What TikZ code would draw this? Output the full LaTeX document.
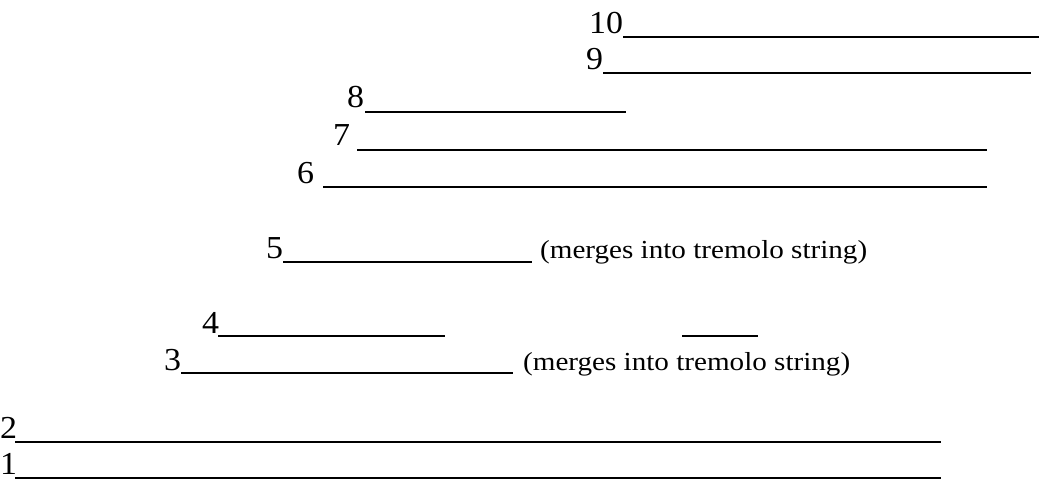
\documentclass[tikz,border=0pt]{standalone}
\usepackage{fontspec}
\setmainfont{Liberation Serif}
\newfontfamily\notefont[FakeStretch=1.12]{Liberation Serif}
\newfontfamily\numfont[FakeStretch=1.06]{Liberation Serif}
\begin{document}
\begin{tikzpicture}[x=1pt,y=-1pt,
  num/.style={anchor=base west,inner sep=0pt,font=\numfont\fontsize{32}{36}\selectfont},
  note/.style={anchor=base west,inner sep=0pt,font=\notefont\fontsize{26}{30}\selectfont},
  rule/.style={line width=2.4pt,black}]
\useasboundingbox (0,0) rectangle (1057,489);
% 10
\node[num] (n10) at (589,34) {10};
\draw[rule] (623,37) -- (1039,37);
% 9
\node[num] (n9) at (586,70) {9};
\draw[rule] (603,73) -- (1031,73);
% 8
\node[num] (n8) at (347,108) {8};
\draw[rule] (365,112) -- (626,112);
% 7
\node[num] (n7) at (333,146) {7};
\draw[rule] (357,150) -- (987,150);
% 6
\node[num] (n6) at (297,184) {6};
\draw[rule] (323,187) -- (987,187);
% 5
\node[num] (n5) at (266,258) {5};
\draw[rule] (283,262) -- (532,262);
\node[note] (t5) at (540,258) {(merges into tremolo string)};
% 4
\node[num] (n4) at (202,333) {4};
\draw[rule] (218,336) -- (445,336);
\draw[rule] (682,336) -- (758,336);
% 3
\node[num] (n3) at (164,370) {3};
\draw[rule] (181,373) -- (513,373);
\node[note] (t3) at (523,370) {(merges into tremolo string)};
% 2
\node[num] (n2) at (0,438) {2};
\draw[rule] (15,442) -- (941,442);
% 1
\node[num] (n1) at (0,474) {1};
\draw[rule] (15,478) -- (941,478);
\end{tikzpicture}
\end{document}
